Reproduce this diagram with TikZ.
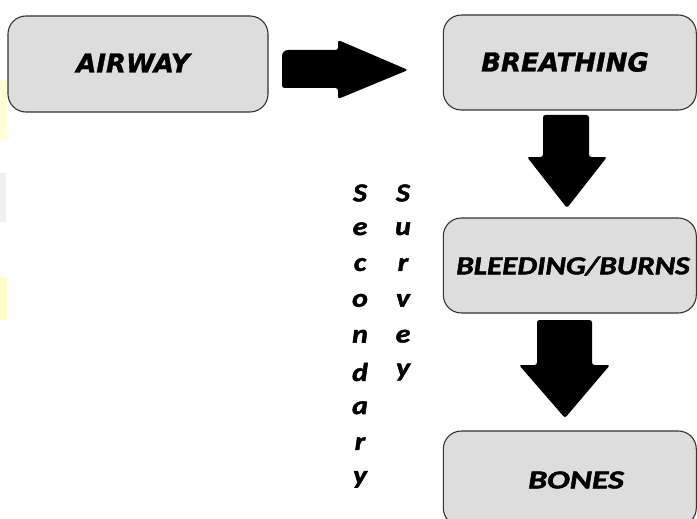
\documentclass[tikz,border=0pt]{standalone}
\usepackage{fontspec}
\usepackage{graphicx}
\newfontfamily\djv{DejaVu Sans}[BoldItalicFeatures={FakeBold=1.3}]
\newfontfamily\crl{Carlito}[BoldItalicFeatures={FakeBold=1.6}]
\definecolor{boxgray}{HTML}{DDDDDD}
\begin{document}
\begin{tikzpicture}[x=1pt,y=-1pt,
  box/.style={draw=black!80, line width=1.1pt, fill=boxgray, rounded corners=18pt,
              minimum height=95pt, inner sep=0pt},
  blk/.style={fill=black, rounded corners=2.5pt},
  dvtxt/.style={font=\djv\bfseries\itshape\fontsize{26}{30}\selectfont},
  cltxt/.style={font=\crl\bfseries\itshape\fontsize{26}{30}\selectfont},
  letter/.style={cltxt, inner sep=0pt, anchor=center}]
\useasboundingbox (0,0) rectangle (697,519);
% faint left-edge remnants
\fill[yellow!18] (0,80) rectangle (7,140);
\fill[gray!12] (0,173) rectangle (6,222);
\fill[yellow!22] (0,277) rectangle (7,320);
% boxes
\node[box, minimum width=260pt, minimum height=96pt] (airway) at (138,64) {};
\node[dvtxt] (airwayT) at (133,63) {AIRWAY};
\node[box, minimum width=253pt] (breathing) at (569.8,62.5) {};
\node[dvtxt] (breathingT) at (565,62) {BREATHING};
\node[box, minimum width=253pt] (bleeding) at (569.8,265.5) {};
\node[cltxt] (bleedingT) at (573,266) {\scalebox{1.2}[1]{BLEEDING/BURNS}};
\node[box, minimum width=253pt] (bones) at (569.8,478.5) {};
\node[cltxt] (bonesT) at (576,480) {\scalebox{1.3}[1]{BONES}};
% block arrows
\fill[blk] (338,88) -- (282,88) {[rounded corners=6pt] -- (282,50)} -- (338,50) -- (338,40) -- (408,70) -- (338,99) -- cycle;
\fill[blk] (543,115) -- (589,115) -- (589,157) -- (607,157) -- (567,208) -- (527,157) -- (543,157) -- cycle;
\fill[blk] (537,320) -- (592,320) -- (592,365) -- (610,365) -- (565,418) -- (519,365) -- (537,365) -- cycle;
% vertical words
\foreach \c [count=\i] in {S,e,c,o,n,d,a,r,y}
  \node[letter] (sec\i) at (360,{193+35.8*(\i-1)}) {\scalebox{1.15}[1]{\c}};
\foreach \c [count=\i] in {S,u,r,v,e,y}
  \node[letter] (sur\i) at (403,{193+35.8*(\i-1)}) {\scalebox{1.15}[1]{\c}};
\end{tikzpicture}
\end{document}
